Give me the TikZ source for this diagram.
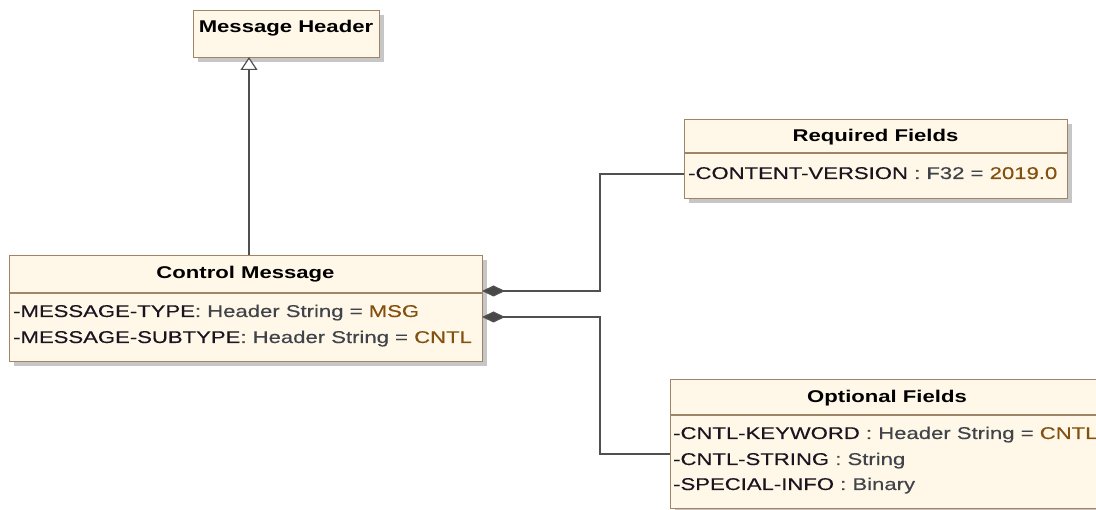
\documentclass[tikz,border=0pt]{standalone}
\usepackage{fontspec}
\setmainfont{Liberation Sans}[FakeStretch=1.3]
\newfontfamily\attrfont{Liberation Sans}[FakeStretch=1.3, FakeBold=0.35]
\usetikzlibrary{arrows.meta,shadows}
\definecolor{boxfill}{HTML}{FFF8E8}
\definecolor{boxline}{HTML}{A08468}
\definecolor{conn}{HTML}{505050}
\definecolor{nmcol}{HTML}{1A1420}
\definecolor{tycol}{HTML}{40444A}
\definecolor{valcol}{HTML}{84500F}
\newcommand{\nm}[1]{\textcolor{nmcol}{#1}}
\newcommand{\ty}[1]{\textcolor{tycol}{#1}}
\newcommand{\vl}[1]{\textcolor{valcol}{#1}}
\begin{document}
\begin{tikzpicture}[x=1pt,y=-1pt,
  classbox/.style={draw=boxline, line width=1.4pt, fill=boxfill, rectangle, inner sep=0pt, anchor=north west,
    drop shadow={shadow xshift=4pt, shadow yshift=-4pt, fill=black!28, opacity=0.8}},
  divider/.style={draw=boxline, line width=1.4pt},
  hdr/.style={inner sep=0pt, anchor=base, font=\fontsize{17}{20}\selectfont\bfseries, text=black},
  attr/.style={inner sep=0pt, anchor=base west, font=\attrfont\fontsize{17}{20}\selectfont},
  comp/.style={draw=conn, line width=1.4pt, {Diamond[length=23pt,width=11pt,fill=conn!90!black]}-},
  gen/.style={draw=conn, line width=1.4pt, -{Triangle[open,length=13pt,width=17pt,fill=white,line width=1.2pt]}}
]
\useasboundingbox (0,0) rectangle (1096,510);
\clip (0,0) rectangle (1096,510);
\fill[white] (0,0) rectangle (1096,510);

% Message Header
\node[classbox, minimum width=186pt, minimum height=47pt] (mh) at (193,10) {};
\node[hdr] (mh-h) at (286,33) {Message Header};

% Control Message
\node[classbox, minimum width=473pt, minimum height=106pt] (cm) at (9,255) {};
\draw[divider] ([yshift=-38pt]cm.north west) -- ([yshift=-38pt]cm.north east);
\node[hdr] (cm-h) at (245.5,279) {Control Message};
\node[attr] (cm-a1) at (13,317) {\nm{-MESSAGE-TYPE}\ty{: Header String = }\vl{MSG}};
\node[attr] (cm-a2) at (13,343) {\nm{-MESSAGE-SUBTYPE}\ty{: Header String = }\vl{CNTL}};

% Required Fields
\node[classbox, minimum width=383pt, minimum height=79pt] (rf) at (684,119) {};
\draw[divider] ([yshift=-34pt]rf.north west) -- ([yshift=-34pt]rf.north east);
\node[hdr] (rf-h) at (875.5,142) {Required Fields};
\node[attr] (rf-a1) at (688,179) {\nm{-CONTENT-VERSION}\ \ty{: F32 = }\vl{2019.0}};

% Optional Fields
\node[classbox, minimum width=434pt, minimum height=129pt] (of) at (670,379) {};
\draw[divider] ([yshift=-36pt]of.north west) -- ([yshift=-36pt]of.north east);
\node[hdr] (of-h) at (887,403) {Optional Fields};
\node[attr] (of-a1) at (673,439) {\nm{-CNTL-KEYWORD}\ \ty{: Header String = }\vl{CNTL}};
\node[attr] (of-a2) at (673,465) {\nm{-CNTL-STRING}\ \ty{: String}};
\node[attr] (of-a3) at (673,490) {\nm{-SPECIAL-INFO}\ \ty{: Binary}};

% connector points
\coordinate (cm-top) at (249,255);
\coordinate (mh-bot) at (249,57);
\coordinate (cm-p1) at (482,291);
\coordinate (cm-p2) at (482,317);
\coordinate (bend) at (600,0);
\coordinate (rf-p) at (684,174);
\coordinate (of-p) at (670,454);

\draw[gen] (cm-top) -- (mh-bot);
\draw[comp] (cm-p1) -- (cm-p1 -| bend) |- (rf-p);
\draw[comp] (cm-p2) -- (cm-p2 -| bend) |- (of-p);
\end{tikzpicture}
\end{document}
